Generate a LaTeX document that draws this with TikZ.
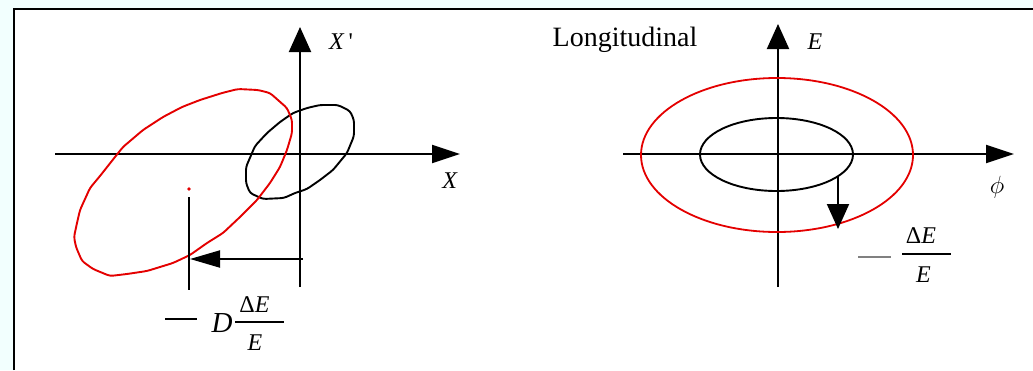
\documentclass[tikz,border=0pt]{standalone}
\usepackage{fontspec}
\setmainfont{Liberation Serif}
\usetikzlibrary{arrows.meta}
\definecolor{bgcyan}{RGB}{242,255,254}
\definecolor{myred}{RGB}{228,0,0}
\definecolor{dashgray}{RGB}{128,128,128}
\begin{document}
\begin{tikzpicture}[x=1pt,y=-1pt,
  axisline/.style={line width=2pt,-{Triangle[length=28pt,width=18pt]}},
  vaxisline/.style={line width=2pt,-{Triangle[length=25pt,width=22pt]}},
  curve/.style={line width=1.9pt,rounded corners=3pt},
  lbl/.style={inner sep=0pt,font=\fontsize{24}{28}\selectfont},
  frac/.style={inner sep=0pt,font=\fontsize{24}{27}\selectfont}]
\useasboundingbox (0,0) rectangle (1033,370);
% background and frame
\fill[bgcyan] (0,0) rectangle (1033,370);
\fill[white] (14,9) rectangle (1033,370);
\draw[line width=1.3pt] (14,370) -- (14,9) -- (1033,9);
% ---------- left panel ----------
\coordinate (lxs) at (55,154);
\coordinate (lxe) at (460,154);
\coordinate (lys) at (300,287);
\coordinate (lye) at (300,27);
\draw[axisline] (lxs) -- (lxe);
\draw[vaxisline] (lys) -- (lye);
\node[lbl] (xp) at (341,42) {\textit{X}\,\textquotesingle};
\node[lbl] (xl) at (450,181) {\textit{X}};
% black distorted ellipse
\draw[curve] (320,105) -- (338,105) -- (350,111) -- (354,120) -- (354,136) -- (347,153)
  -- (333,170) -- (320,180) -- (307,189) -- (295,193) -- (284,198) -- (263,199)
  -- (250,193) -- (246,183) -- (246,167) -- (255,146) -- (267,133) -- (280,122)
  -- (293,113) -- (307,108) -- cycle;
% red distorted ellipse
\draw[curve,myred] (238,89) -- (258,90) -- (270,93) -- (287,108) -- (292,120) -- (292,133)
  -- (287,150) -- (280,167) -- (270,183) -- (257,200) -- (240,217) -- (223,233)
  -- (207,243) -- (190,255) -- (173,263) -- (147,271) -- (127,274) -- (110,276)
  -- (93,269) -- (82,261) -- (76,247) -- (74,237) -- (77,223) -- (80,210)
  -- (90,188) -- (100,176) -- (115,157) -- (123,147) -- (143,130) -- (163,117)
  -- (182,107) -- (200,100) -- (222,93) -- cycle;
\fill[myred] (189,189) circle (1.8pt);
\coordinate (mtop) at (189,197);
\coordinate (mbot) at (189,290);
\draw[line width=2pt] (mtop) -- (mbot);
\coordinate (sa) at (303,259);
\coordinate (sb) at (190,259);
\draw[line width=2pt,-{Triangle[length=30pt,width=17pt]}] (sa) -- (sb);
% label -D dE/E
\coordinate (d1) at (165,319);
\coordinate (d2) at (197,319);
\draw[line width=1.2pt] (d1) -- (d2);
\node[inner sep=0pt,font=\fontsize{29}{32}\selectfont] (dl) at (222,323) {\textit{D}};
\node[frac] (ln) at (254.5,304.5) {Δ\textit{E}};
\coordinate (lb1) at (235,322);
\coordinate (lb2) at (284,322);
\draw[line width=1.4pt] (lb1) -- (lb2);
\node[frac] (ld) at (255,343) {\textit{E}};
% ---------- right panel ----------
\node[inner sep=0pt,font=\fontsize{28}{32}\selectfont] (long) at (625,40) {Longitudinal};
\coordinate (rxs) at (623,154);
\coordinate (rxe) at (1014,154);
\coordinate (rys) at (778,287);
\coordinate (rye) at (778,24);
\draw[axisline] (rxs) -- (rxe);
\draw[vaxisline] (rys) -- (rye);
\node[lbl] (el) at (815,42) {\textit{E}};
\node[lbl] (phil) at (997,187) {$\phi$};
\draw[myred,line width=1.8pt] (777,155) ellipse [x radius=136pt, y radius=77pt];
\draw[line width=1.9pt] (776.5,154.5) ellipse [x radius=76.5pt, y radius=36.5pt];
\coordinate (ra) at (838,176);
\coordinate (rb) at (838,229);
\draw[line width=2pt,-{Triangle[length=25pt,width=22pt]}] (ra) -- (rb);
\coordinate (g1) at (858,257);
\coordinate (g2) at (891,257);
\draw[dashgray,line width=1.5pt] (g1) -- (g2);
\node[frac] (rn) at (921,235.5) {Δ\textit{E}};
\coordinate (rb1) at (902,254);
\coordinate (rb2) at (951,254);
\draw[line width=1.4pt] (rb1) -- (rb2);
\node[frac] (rd) at (923.5,274.5) {\textit{E}};
\end{tikzpicture}
\end{document}
